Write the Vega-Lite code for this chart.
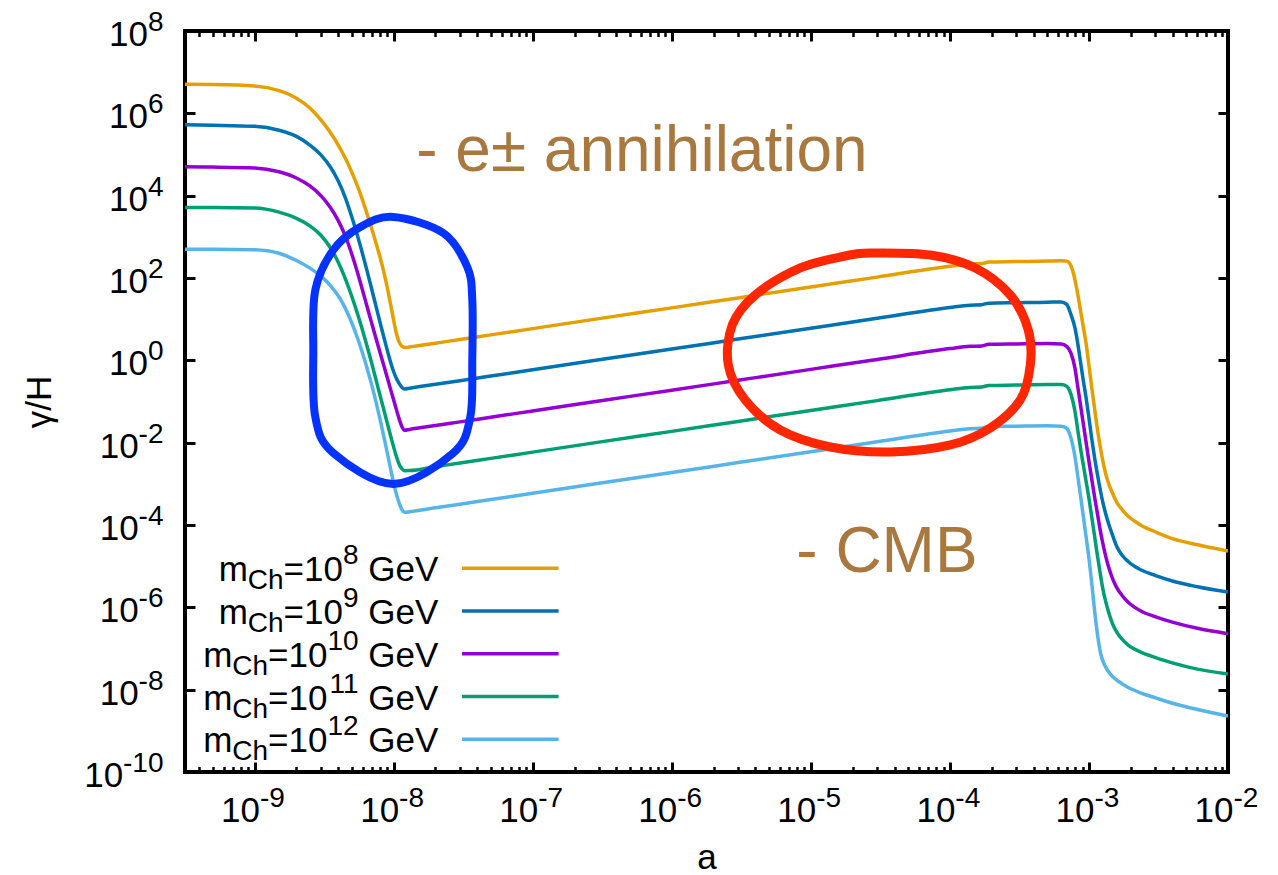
{
"$schema": "https://vega.github.io/schema/vega-lite/v6.json",
"width": 1043, "height": 741,
"autosize": "none",
"padding": {"left": 185, "top": 31, "right": 50, "bottom": 103},
"background": "white",
"config": {"font": "Liberation Sans", "view": {"stroke": "black", "strokeWidth": 4}, "text": {"font": "Liberation Sans", "color": "black"}},
"datasets": {
"curves": [
{"m":"8","a":3.16228e-10,"g":5.08e6},{"m":"8","a":5e-10,"g":5.01e6},{"m":"8","a":1e-9,"g":4.62e6},{"m":"8","a":1.5e-9,"g":3.55e6},{"m":"8","a":2e-9,"g":2.34e6},{"m":"8","a":2.5e-9,"g":1.35e6},{"m":"8","a":3e-9,"g":6.92e5},{"m":"8","a":3.5e-9,"g":3.47e5},{"m":"8","a":4e-9,"g":1.70e5},{"m":"8","a":4.5e-9,"g":8.13e4},{"m":"8","a":5e-9,"g":3.72e4},{"m":"8","a":5.5e-9,"g":1.70e4},{"m":"8","a":6e-9,"g":7.59e3},{"m":"8","a":6.5e-9,"g":3.31e3},{"m":"8","a":7e-9,"g":1.48e3},{"m":"8","a":7.5e-9,"g":676},{"m":"8","a":8e-9,"g":316},{"m":"8","a":8.5e-9,"g":141},{"m":"8","a":9e-9,"g":58.9},{"m":"8","a":9.5e-9,"g":23.4},{"m":"8","a":1e-8,"g":9.55},{"m":"8","a":1.05e-8,"g":4.37},{"m":"8","a":1.1e-8,"g":2.69},{"m":"8","a":1.15e-8,"g":2.19},{"m":"8","a":1.2e-8,"g":2.04},
{"m":"8","a":1.3e-8,"g":2.10},{"m":"8","a":2e-8,"g":2.61},{"m":"8","a":3e-8,"g":3.20},{"m":"8","a":5e-8,"g":4.15},{"m":"8","a":1e-7,"g":5.89},{"m":"8","a":3e-7,"g":10.3},{"m":"8","a":1e-6,"g":18.8},{"m":"8","a":3e-6,"g":32.8},{"m":"8","a":1e-5,"g":60.3},{"m":"8","a":3e-5,"g":105},{"m":"8","a":1e-4,"g":193},{"m":"8","a":1.4e-4,"g":219},{"m":"8","a":1.7e-4,"g":224},{"m":"8","a":1.9e-4,"g":245},{"m":"8","a":3e-4,"g":251},{"m":"8","a":5e-4,"g":257},
{"m":"8","a":6.31e-4,"g":263},{"m":"8","a":6.918e-4,"g":257},{"m":"8","a":7.413e-4,"g":200},{"m":"8","a":7.943e-4,"g":89.1},{"m":"8","a":8.318e-4,"g":39.8},{"m":"8","a":8.71e-4,"g":15.85},{"m":"8","a":9.12e-4,"g":6.31},{"m":"8","a":9.55e-4,"g":2.512},{"m":"8","a":1e-3,"g":0.759},{"m":"8","a":1.047e-3,"g":0.224},{"m":"8","a":1.096e-3,"g":0.0708},{"m":"8","a":1.148e-3,"g":0.0224},{"m":"8","a":1.202e-3,"g":8.51e-3},{"m":"8","a":1.259e-3,"g":3.55e-3},{"m":"8","a":1.318e-3,"g":1.78e-3},{"m":"8","a":1.38e-3,"g":1.047e-3},{"m":"8","a":1.479e-3,"g":5.89e-4},{"m":"8","a":1.585e-3,"g":3.55e-4},{"m":"8","a":1.738e-3,"g":2.34e-4},{"m":"8","a":1.905e-3,"g":1.66e-4},{"m":"8","a":2.138e-3,"g":1.23e-4},{"m":"8","a":2.399e-3,"g":9.55e-5},{"m":"8","a":3.02e-3,"g":6.76e-5},{"m":"8","a":3.981e-3,"g":4.68e-5},{"m":"8","a":6.026e-3,"g":3.31e-5},{"m":"8","a":1e-2,"g":2.34e-5},

{"m":"9","a":3.16228e-10,"g":5.25e5},{"m":"9","a":5e-10,"g":5.13e5},{"m":"9","a":1e-9,"g":4.84e5},{"m":"9","a":1.5e-9,"g":3.89e5},{"m":"9","a":2e-9,"g":2.75e5},{"m":"9","a":2.5e-9,"g":1.69e5},{"m":"9","a":3e-9,"g":9.77e4},{"m":"9","a":3.5e-9,"g":5.04e4},{"m":"9","a":4e-9,"g":2.26e4},{"m":"9","a":4.5e-9,"g":8.83e3},{"m":"9","a":5e-9,"g":3.06e3},{"m":"9","a":5.5e-9,"g":1.06e3},{"m":"9","a":6e-9,"g":372},{"m":"9","a":6.5e-9,"g":133},{"m":"9","a":7e-9,"g":49.8},{"m":"9","a":7.5e-9,"g":19.6},{"m":"9","a":8e-9,"g":8.20},{"m":"9","a":8.5e-9,"g":3.70},{"m":"9","a":9e-9,"g":1.77},{"m":"9","a":9.5e-9,"g":0.912},{"m":"9","a":1e-8,"g":0.536},{"m":"9","a":1.05e-8,"g":0.355},{"m":"9","a":1.1e-8,"g":0.269},{"m":"9","a":1.15e-8,"g":0.219},{"m":"9","a":1.2e-8,"g":0.201},
{"m":"9","a":1.3e-8,"g":0.210},{"m":"9","a":2e-8,"g":0.261},{"m":"9","a":3e-8,"g":0.320},{"m":"9","a":5e-8,"g":0.415},{"m":"9","a":1e-7,"g":0.589},{"m":"9","a":3e-7,"g":1.03},{"m":"9","a":1e-6,"g":1.88},{"m":"9","a":3e-6,"g":3.28},{"m":"9","a":1e-5,"g":6.03},{"m":"9","a":3e-5,"g":10.5},{"m":"9","a":1e-4,"g":19.3},{"m":"9","a":1.4e-4,"g":21.9},{"m":"9","a":1.7e-4,"g":22.4},{"m":"9","a":1.9e-4,"g":24.5},{"m":"9","a":3e-4,"g":25.1},{"m":"9","a":5e-4,"g":25.7},
{"m":"9","a":6.31e-4,"g":26.3},{"m":"9","a":6.918e-4,"g":22.9},{"m":"9","a":7.413e-4,"g":13.2},{"m":"9","a":7.943e-4,"g":6.03},{"m":"9","a":8.318e-4,"g":2.512},{"m":"9","a":8.71e-4,"g":0.891},{"m":"9","a":9.12e-4,"g":0.316},{"m":"9","a":9.55e-4,"g":0.120},{"m":"9","a":1e-3,"g":0.0398},{"m":"9","a":1.047e-3,"g":0.0126},{"m":"9","a":1.096e-3,"g":4.47e-3},{"m":"9","a":1.148e-3,"g":1.78e-3},{"m":"9","a":1.202e-3,"g":7.59e-4},{"m":"9","a":1.259e-3,"g":3.55e-4},{"m":"9","a":1.318e-3,"g":1.91e-4},{"m":"9","a":1.38e-3,"g":1.12e-4},{"m":"9","a":1.479e-3,"g":5.62e-5},{"m":"9","a":1.585e-3,"g":3.02e-5},{"m":"9","a":1.738e-3,"g":1.82e-5},{"m":"9","a":1.905e-3,"g":1.32e-5},{"m":"9","a":2.138e-3,"g":9.77e-6},{"m":"9","a":2.399e-3,"g":7.94e-6},{"m":"9","a":3.02e-3,"g":5.89e-6},{"m":"9","a":3.981e-3,"g":4.37e-6},{"m":"9","a":6.026e-3,"g":3.16e-6},{"m":"9","a":1e-2,"g":2.34e-6},

{"m":"10","a":3.16228e-10,"g":5.01e4},{"m":"10","a":5e-10,"g":4.95e4},{"m":"10","a":1e-9,"g":4.73e4},{"m":"10","a":1.5e-9,"g":3.80e4},{"m":"10","a":2e-9,"g":2.69e4},{"m":"10","a":2.5e-9,"g":1.72e4},{"m":"10","a":3e-9,"g":1.0e4},{"m":"10","a":3.5e-9,"g":5.22e3},{"m":"10","a":4e-9,"g":2.47e3},{"m":"10","a":4.5e-9,"g":1.04e3},{"m":"10","a":5e-9,"g":384},{"m":"10","a":5.5e-9,"g":136},{"m":"10","a":6e-9,"g":48.4},{"m":"10","a":6.5e-9,"g":18.2},{"m":"10","a":7e-9,"g":7.43},{"m":"10","a":7.5e-9,"g":3.24},{"m":"10","a":8e-9,"g":1.52},{"m":"10","a":8.5e-9,"g":0.753},{"m":"10","a":9e-9,"g":0.385},{"m":"10","a":9.5e-9,"g":0.200},{"m":"10","a":1e-8,"g":0.111},{"m":"10","a":1.05e-8,"g":0.0617},{"m":"10","a":1.1e-8,"g":0.0363},{"m":"10","a":1.15e-8,"g":0.0240},{"m":"10","a":1.2e-8,"g":0.0200},
{"m":"10","a":1.3e-8,"g":0.0210},{"m":"10","a":2e-8,"g":0.0261},{"m":"10","a":3e-8,"g":0.0320},{"m":"10","a":5e-8,"g":0.0415},{"m":"10","a":1e-7,"g":0.0589},{"m":"10","a":3e-7,"g":0.103},{"m":"10","a":1e-6,"g":0.188},{"m":"10","a":3e-6,"g":0.328},{"m":"10","a":1e-5,"g":0.603},{"m":"10","a":3e-5,"g":1.05},{"m":"10","a":1e-4,"g":1.93},{"m":"10","a":1.4e-4,"g":2.19},{"m":"10","a":1.7e-4,"g":2.24},{"m":"10","a":1.9e-4,"g":2.45},{"m":"10","a":3e-4,"g":2.51},{"m":"10","a":5e-4,"g":2.57},
{"m":"10","a":6.31e-4,"g":2.51},{"m":"10","a":6.918e-4,"g":2.19},{"m":"10","a":7.413e-4,"g":1.51},{"m":"10","a":7.943e-4,"g":0.631},{"m":"10","a":8.318e-4,"g":0.224},{"m":"10","a":8.71e-4,"g":0.0794},{"m":"10","a":9.12e-4,"g":0.0282},{"m":"10","a":9.55e-4,"g":0.0100},{"m":"10","a":1e-3,"g":3.55e-3},{"m":"10","a":1.047e-3,"g":1.32e-3},{"m":"10","a":1.096e-3,"g":5.01e-4},{"m":"10","a":1.148e-3,"g":2.0e-4},{"m":"10","a":1.202e-3,"g":7.94e-5},{"m":"10","a":1.259e-3,"g":3.55e-5},{"m":"10","a":1.318e-3,"g":1.78e-5},{"m":"10","a":1.38e-3,"g":1.0e-5},{"m":"10","a":1.479e-3,"g":5.01e-6},{"m":"10","a":1.585e-3,"g":3.02e-6},{"m":"10","a":1.738e-3,"g":1.91e-6},{"m":"10","a":1.905e-3,"g":1.35e-6},{"m":"10","a":2.138e-3,"g":1.0e-6},{"m":"10","a":2.399e-3,"g":7.94e-7},{"m":"10","a":3.02e-3,"g":5.89e-7},{"m":"10","a":3.981e-3,"g":4.37e-7},{"m":"10","a":6.026e-3,"g":3.09e-7},{"m":"10","a":1e-2,"g":2.29e-7},

{"m":"11","a":3.16228e-10,"g":5.13e3},{"m":"11","a":5e-10,"g":5.13e3},{"m":"11","a":1e-9,"g":5.01e3},{"m":"11","a":1.5e-9,"g":3.98e3},{"m":"11","a":2e-9,"g":2.82e3},{"m":"11","a":2.5e-9,"g":1.85e3},{"m":"11","a":3e-9,"g":1.09e3},{"m":"11","a":3.5e-9,"g":552},{"m":"11","a":4e-9,"g":241},{"m":"11","a":4.5e-9,"g":95.3},{"m":"11","a":5e-9,"g":36.0},{"m":"11","a":5.5e-9,"g":13.6},{"m":"11","a":6e-9,"g":5.19},{"m":"11","a":6.5e-9,"g":2.0},{"m":"11","a":7e-9,"g":0.789},{"m":"11","a":7.5e-9,"g":0.321},{"m":"11","a":8e-9,"g":0.138},{"m":"11","a":8.5e-9,"g":0.0635},{"m":"11","a":9e-9,"g":0.0302},{"m":"11","a":9.5e-9,"g":0.0149},{"m":"11","a":1e-8,"g":7.91e-3},{"m":"11","a":1.05e-8,"g":4.49e-3},{"m":"11","a":1.1e-8,"g":2.92e-3},{"m":"11","a":1.15e-8,"g":2.30e-3},{"m":"11","a":1.2e-8,"g":2.09e-3},
{"m":"11","a":1.3e-8,"g":2.10e-3},{"m":"11","a":2e-8,"g":2.61e-3},{"m":"11","a":3e-8,"g":3.20e-3},{"m":"11","a":5e-8,"g":4.15e-3},{"m":"11","a":1e-7,"g":5.89e-3},{"m":"11","a":3e-7,"g":0.0103},{"m":"11","a":1e-6,"g":0.0188},{"m":"11","a":3e-6,"g":0.0328},{"m":"11","a":1e-5,"g":0.0603},{"m":"11","a":3e-5,"g":0.105},{"m":"11","a":1e-4,"g":0.193},{"m":"11","a":1.4e-4,"g":0.219},{"m":"11","a":1.7e-4,"g":0.224},{"m":"11","a":1.9e-4,"g":0.245},{"m":"11","a":3e-4,"g":0.251},{"m":"11","a":5e-4,"g":0.257},
{"m":"11","a":6.31e-4,"g":0.257},{"m":"11","a":6.918e-4,"g":0.234},{"m":"11","a":7.413e-4,"g":0.151},{"m":"11","a":7.943e-4,"g":0.0562},{"m":"11","a":8.318e-4,"g":0.0200},{"m":"11","a":8.71e-4,"g":7.08e-3},{"m":"11","a":9.12e-4,"g":2.82e-3},{"m":"11","a":9.55e-4,"g":1.12e-3},{"m":"11","a":1e-3,"g":4.47e-4},{"m":"11","a":1.047e-3,"g":1.58e-4},{"m":"11","a":1.096e-3,"g":5.62e-5},{"m":"11","a":1.148e-3,"g":1.91e-5},{"m":"11","a":1.202e-3,"g":7.08e-6},{"m":"11","a":1.259e-3,"g":2.82e-6},{"m":"11","a":1.318e-3,"g":1.41e-6},{"m":"11","a":1.38e-3,"g":7.94e-7},{"m":"11","a":1.479e-3,"g":3.98e-7},{"m":"11","a":1.585e-3,"g":2.51e-7},{"m":"11","a":1.738e-3,"g":1.66e-7},{"m":"11","a":1.905e-3,"g":1.23e-7},{"m":"11","a":2.138e-3,"g":9.55e-8},{"m":"11","a":2.399e-3,"g":7.94e-8},{"m":"11","a":3.02e-3,"g":6.03e-8},{"m":"11","a":3.981e-3,"g":4.47e-8},{"m":"11","a":6.026e-3,"g":3.16e-8},{"m":"11","a":1e-2,"g":2.40e-8},

{"m":"12","a":3.16228e-10,"g":501},{"m":"12","a":5e-10,"g":501},{"m":"12","a":1e-9,"g":484},{"m":"12","a":1.5e-9,"g":398},{"m":"12","a":2e-9,"g":266},{"m":"12","a":2.5e-9,"g":174},{"m":"12","a":3e-9,"g":111},{"m":"12","a":3.5e-9,"g":66.5},{"m":"12","a":4e-9,"g":37.0},{"m":"12","a":4.5e-9,"g":18.3},{"m":"12","a":5e-9,"g":8.17},{"m":"12","a":5.5e-9,"g":3.49},{"m":"12","a":6e-9,"g":1.44},{"m":"12","a":6.5e-9,"g":0.585},{"m":"12","a":7e-9,"g":0.236},{"m":"12","a":7.5e-9,"g":0.0929},{"m":"12","a":8e-9,"g":0.0362},{"m":"12","a":8.5e-9,"g":0.0143},{"m":"12","a":9e-9,"g":5.70e-3},{"m":"12","a":9.5e-9,"g":2.36e-3},{"m":"12","a":1e-8,"g":1.07e-3},{"m":"12","a":1.05e-8,"g":5.46e-4},{"m":"12","a":1.1e-8,"g":3.29e-4},{"m":"12","a":1.15e-8,"g":2.34e-4},{"m":"12","a":1.2e-8,"g":2.04e-4},
{"m":"12","a":1.3e-8,"g":2.10e-4},{"m":"12","a":2e-8,"g":2.61e-4},{"m":"12","a":3e-8,"g":3.20e-4},{"m":"12","a":5e-8,"g":4.15e-4},{"m":"12","a":1e-7,"g":5.89e-4},{"m":"12","a":3e-7,"g":1.03e-3},{"m":"12","a":1e-6,"g":1.88e-3},{"m":"12","a":3e-6,"g":3.28e-3},{"m":"12","a":1e-5,"g":6.03e-3},{"m":"12","a":3e-5,"g":0.0105},{"m":"12","a":1e-4,"g":0.0193},{"m":"12","a":1.4e-4,"g":0.0219},{"m":"12","a":1.7e-4,"g":0.0224},{"m":"12","a":1.9e-4,"g":0.0245},{"m":"12","a":3e-4,"g":0.0251},{"m":"12","a":5e-4,"g":0.0257},
{"m":"12","a":6.31e-4,"g":0.0251},{"m":"12","a":6.918e-4,"g":0.0224},{"m":"12","a":7.413e-4,"g":0.0132},{"m":"12","a":7.943e-4,"g":4.47e-3},{"m":"12","a":8.318e-4,"g":1.51e-3},{"m":"12","a":8.71e-4,"g":5.01e-4},{"m":"12","a":9.12e-4,"g":1.58e-4},{"m":"12","a":9.55e-4,"g":5.01e-5},{"m":"12","a":1e-3,"g":1.58e-5},{"m":"12","a":1.047e-3,"g":3.98e-6},{"m":"12","a":1.096e-3,"g":8.91e-7},{"m":"12","a":1.148e-3,"g":2.40e-7},{"m":"12","a":1.202e-3,"g":8.91e-8},{"m":"12","a":1.259e-3,"g":5.01e-8},{"m":"12","a":1.318e-3,"g":3.55e-8},{"m":"12","a":1.38e-3,"g":2.75e-8},{"m":"12","a":1.479e-3,"g":2.09e-8},{"m":"12","a":1.585e-3,"g":1.70e-8},{"m":"12","a":1.738e-3,"g":1.38e-8},{"m":"12","a":1.905e-3,"g":1.15e-8},{"m":"12","a":2.138e-3,"g":9.55e-9},{"m":"12","a":2.399e-3,"g":8.13e-9},{"m":"12","a":3.02e-3,"g":6.31e-9},{"m":"12","a":3.981e-3,"g":4.68e-9},{"m":"12","a":6.026e-3,"g":3.31e-9},{"m":"12","a":1e-2,"g":2.29e-9}
],
"blueloop": [
{"i":1,"a":9.95e-9,"g":3035},{"i":2,"a":2.276e-8,"g":1240},{"i":3,"a":3.388e-8,"g":185.2},{"i":4,"a":3.68e-8,"g":29.25},{"i":5,"a":3.68e-8,"g":1.02},{"i":6,"a":3.56e-8,"g":0.0421},{"i":7,"a":2.687e-8,"g":5.62e-3},{"i":8,"a":9.95e-9,"g":9.93e-4},{"i":9,"a":3.683e-9,"g":5.62e-3},{"i":10,"a":2.735e-9,"g":0.0421},{"i":11,"a":2.646e-9,"g":1.785},{"i":12,"a":2.735e-9,"g":51.2},{"i":13,"a":3.683e-9,"g":479},{"i":14,"a":5.76e-9,"g":1735}
],
"redloop": [
{"i":1,"a":2.677e-5,"g":405.3},{"i":2,"a":7.23e-5,"g":362.3},{"i":3,"a":1.523e-4,"g":175.2},{"i":4,"a":2.719e-4,"g":38.7},{"i":5,"a":3.663e-4,"g":5.464},{"i":6,"a":3.786e-4,"g":0.7716},{"i":7,"a":3.208e-4,"g":0.109},{"i":8,"a":1.952e-4,"g":0.02275},{"i":9,"a":1.007e-4,"g":8.79e-3},{"i":10,"a":3.728e-5,"g":5.94e-3},{"i":11,"a":1.38e-5,"g":7.86e-3},{"i":12,"a":6.03e-6,"g":0.02035},{"i":13,"a":3.38e-6,"g":0.109},{"i":14,"a":2.551e-6,"g":0.7716},{"i":15,"a":2.725e-6,"g":7.225},{"i":16,"a":3.99e-6,"g":38.7},{"i":17,"a":8.4e-6,"g":175.2},{"i":18,"a":1.77e-5,"g":342.7}
],
"notes": [{"t":"- e± annihilation","a":1.455e-8,"g":3.98e4},{"t":"- CMB","a":7.865e-6,"g":7.36e-6}],
"xlab": [{"v":1e-9,"e":"-9"},{"v":1e-8,"e":"-8"},{"v":1e-7,"e":"-7"},{"v":1e-6,"e":"-6"},{"v":1e-5,"e":"-5"},{"v":1e-4,"e":"-4"},{"v":1e-3,"e":"-3"},{"v":1e-2,"e":"-2"}],
"ylab": [{"v":1e8,"e":"8","g":1},{"v":1e6,"e":"6","g":1},{"v":1e4,"e":"4","g":1},{"v":100,"e":"2","g":1},{"v":1,"e":"0","g":1},{"v":0.01,"e":"-2","g":2},{"v":1e-4,"e":"-4","g":2},{"v":1e-6,"e":"-6","g":2},{"v":1e-8,"e":"-8","g":2},{"v":1e-10,"e":"-10","g":3}],
"legend": [{"m":"8","e":"8","r":1,"d":1},{"m":"9","e":"9","r":2,"d":1},{"m":"10","e":"10","r":3,"d":2},{"m":"11","e":"11","r":4,"d":2},{"m":"12","e":"12","r":5,"d":2}]
},
"layer": [
{
"layer": [
{"data": {"name": "curves"}, "mark": {"type": "line", "strokeWidth": 3.5, "clip": true, "interpolate": "monotone"},
 "encoding": {
  "x": {"field": "a", "type": "quantitative", "scale": {"type": "log", "domain": [3.16228e-10, 0.01], "nice": false},
   "axis": {"orient": "bottom", "labels": false, "domain": false, "grid": false, "ticks": true, "tickColor": "black",
    "values": [4e-10,5e-10,6e-10,7e-10,8e-10,9e-10,1e-9,2e-9,3e-9,4e-9,5e-9,6e-9,7e-9,8e-9,9e-9,1e-8,2e-8,3e-8,4e-8,5e-8,6e-8,7e-8,8e-8,9e-8,1e-7,2e-7,3e-7,4e-7,5e-7,6e-7,7e-7,8e-7,9e-7,1e-6,2e-6,3e-6,4e-6,5e-6,6e-6,7e-6,8e-6,9e-6,1e-5,2e-5,3e-5,4e-5,5e-5,6e-5,7e-5,8e-5,9e-5,1e-4,2e-4,3e-4,4e-4,5e-4,6e-4,7e-4,8e-4,9e-4,1e-3,2e-3,3e-3,4e-3,5e-3,6e-3,7e-3,8e-3,9e-3,1e-2],
    "tickSize": {"condition": {"test": "abs(log(datum.value)/LN10 - round(log(datum.value)/LN10)) < 0.01", "value": -10}, "value": -5.5},
    "tickWidth": {"condition": {"test": "abs(log(datum.value)/LN10 - round(log(datum.value)/LN10)) < 0.01", "value": 3}, "value": 2.5},
    "title": "a", "titleFont": "Liberation Sans", "titleFontSize": 35, "titleFontWeight": "normal", "titleColor": "black",
    "titleX": 521.5, "titleY": 96, "titleBaseline": "alphabetic", "titleAlign": "center"}},
  "y": {"field": "g", "type": "quantitative", "scale": {"type": "log", "domain": [1e-10, 1e8], "nice": false},
   "axis": {"orient": "left", "labels": false, "domain": false, "grid": false, "ticks": true, "tickColor": "black",
    "values": [1e-10,1e-8,1e-6,1e-4,0.01,1,100,1e4,1e6,1e8], "tickSize": -10, "tickWidth": 3,
    "title": "γ/H", "titleFont": "Liberation Sans", "titleFontSize": 35, "titleFontWeight": "normal", "titleColor": "black",
    "titleAngle": 270, "titleX": -135, "titleY": 370.5, "titleBaseline": "alphabetic", "titleAlign": "center"}},
  "color": {"field": "m", "type": "nominal", "scale": {"domain": ["8","9","10","11","12"], "range": ["#e69f00","#0072b2","#9400d3","#009e73","#56b4e9"]}, "legend": null}
 }},
{"data": {"name": "curves"}, "mark": {"type": "point", "opacity": 0},
 "encoding": {
  "x": {"field": "a", "type": "quantitative",
   "axis": {"orient": "top", "labels": false, "domain": false, "grid": false, "ticks": true, "tickColor": "black", "title": null,
    "values": [4e-10,5e-10,6e-10,7e-10,8e-10,9e-10,1e-9,2e-9,3e-9,4e-9,5e-9,6e-9,7e-9,8e-9,9e-9,1e-8,2e-8,3e-8,4e-8,5e-8,6e-8,7e-8,8e-8,9e-8,1e-7,2e-7,3e-7,4e-7,5e-7,6e-7,7e-7,8e-7,9e-7,1e-6,2e-6,3e-6,4e-6,5e-6,6e-6,7e-6,8e-6,9e-6,1e-5,2e-5,3e-5,4e-5,5e-5,6e-5,7e-5,8e-5,9e-5,1e-4,2e-4,3e-4,4e-4,5e-4,6e-4,7e-4,8e-4,9e-4,1e-3,2e-3,3e-3,4e-3,5e-3,6e-3,7e-3,8e-3,9e-3,1e-2],
    "tickSize": {"condition": {"test": "abs(log(datum.value)/LN10 - round(log(datum.value)/LN10)) < 0.01", "value": -10}, "value": -5.5},
    "tickWidth": {"condition": {"test": "abs(log(datum.value)/LN10 - round(log(datum.value)/LN10)) < 0.01", "value": 3}, "value": 2.5}}},
  "y": {"field": "g", "type": "quantitative",
   "axis": {"orient": "right", "labels": false, "domain": false, "grid": false, "ticks": true, "tickColor": "black", "title": null,
    "values": [1e-10,1e-8,1e-6,1e-4,0.01,1,100,1e4,1e6,1e8], "tickSize": -10, "tickWidth": 3}}
 }},
{"mark": {"type": "rule", "color": "#e51e10", "strokeWidth": 3},
 "encoding": {"y": {"datum": 1, "type": "quantitative", "axis": null}}},
{"data": {"name": "blueloop"}, "mark": {"type": "line", "color": "#0433ff", "strokeWidth": 8, "interpolate": "cardinal-closed", "clip": true},
 "encoding": {"x": {"field": "a", "type": "quantitative", "axis": null}, "y": {"field": "g", "type": "quantitative", "axis": null}, "order": {"field": "i", "type": "quantitative"}}},
{"data": {"name": "redloop"}, "mark": {"type": "line", "color": "#ff2600", "strokeWidth": 9, "interpolate": "cardinal-closed", "clip": true},
 "encoding": {"x": {"field": "a", "type": "quantitative", "axis": null}, "y": {"field": "g", "type": "quantitative", "axis": null}, "order": {"field": "i", "type": "quantitative"}}},
{"data": {"name": "notes"}, "mark": {"type": "text", "fontSize": 64, "color": "#a8783f", "align": "left", "baseline": "alphabetic"},
 "encoding": {"x": {"field": "a", "type": "quantitative", "axis": null}, "y": {"field": "g", "type": "quantitative", "axis": null}, "text": {"field": "t"}}},
{"data": {"name": "xlab"}, "mark": {"type": "text", "text": "10", "fontSize": 35, "align": "right", "baseline": "alphabetic", "dx": 5.5, "dy": 50},
 "encoding": {"x": {"field": "v", "type": "quantitative", "axis": null}, "y": {"datum": 1e-10, "type": "quantitative", "axis": null}}},
{"data": {"name": "xlab"}, "mark": {"type": "text", "fontSize": 28, "align": "left", "baseline": "alphabetic", "dx": 5.5, "dy": 35},
 "encoding": {"x": {"field": "v", "type": "quantitative", "axis": null}, "y": {"datum": 1e-10, "type": "quantitative", "axis": null}, "text": {"field": "e"}}},
{"data": {"name": "ylab"}, "mark": {"type": "text", "fontSize": 28, "align": "right", "baseline": "alphabetic", "dx": -21.5, "dy": 0},
 "encoding": {"x": {"datum": 3.16228e-10, "type": "quantitative", "axis": null}, "y": {"field": "v", "type": "quantitative", "axis": null}, "text": {"field": "e"}}},
{"data": {"name": "ylab"}, "transform": [{"filter": "datum.g == 1"}], "mark": {"type": "text", "text": "10", "fontSize": 35, "align": "right", "baseline": "alphabetic", "dx": -37.1, "dy": 15},
 "encoding": {"x": {"datum": 3.16228e-10, "type": "quantitative", "axis": null}, "y": {"field": "v", "type": "quantitative", "axis": null}}},
{"data": {"name": "ylab"}, "transform": [{"filter": "datum.g == 2"}], "mark": {"type": "text", "text": "10", "fontSize": 35, "align": "right", "baseline": "alphabetic", "dx": -46.4, "dy": 15},
 "encoding": {"x": {"datum": 3.16228e-10, "type": "quantitative", "axis": null}, "y": {"field": "v", "type": "quantitative", "axis": null}}},
{"data": {"name": "ylab"}, "transform": [{"filter": "datum.g == 3"}], "mark": {"type": "text", "text": "10", "fontSize": 35, "align": "right", "baseline": "alphabetic", "dx": -61.9, "dy": 15},
 "encoding": {"x": {"datum": 3.16228e-10, "type": "quantitative", "axis": null}, "y": {"field": "v", "type": "quantitative", "axis": null}}}
],
"resolve": {"axis": {"x": "independent", "y": "independent"}}
},
{
"data": {"name": "legend"},
"layer": [
{"mark": {"type": "rule", "strokeWidth": 3.5},
 "encoding": {"x": {"datum": 3.105e-8, "type": "quantitative", "scale": {"type": "log"}, "axis": null}, "x2": {"datum": 1.536e-7},
  "y": {"field": "r", "type": "ordinal", "scale": {"type": "point", "domain": [1,2,3,4,5], "range": [537.3, 708.3], "padding": 0}, "axis": null},
  "color": {"field": "m", "type": "nominal", "legend": null}}},
{"mark": {"type": "text", "text": "GeV", "fontSize": 35, "align": "right", "baseline": "alphabetic", "dy": 13},
 "encoding": {"x": {"datum": 2.096e-8, "type": "quantitative", "scale": {"type": "log"}, "axis": null}, "y": {"field": "r", "type": "ordinal", "axis": null}}},
{"mark": {"type": "text", "fontSize": 28, "align": "right", "baseline": "alphabetic", "dx": -79.7, "dy": -4},
 "encoding": {"x": {"datum": 2.096e-8, "type": "quantitative", "scale": {"type": "log"}, "axis": null}, "y": {"field": "r", "type": "ordinal", "axis": null}, "text": {"field": "e"}}},
{"transform": [{"filter": "datum.d == 1"}], "mark": {"type": "text", "text": "=10", "fontSize": 35, "align": "right", "baseline": "alphabetic", "dx": -95.3, "dy": 13},
 "encoding": {"x": {"datum": 2.096e-8, "type": "quantitative", "scale": {"type": "log"}, "axis": null}, "y": {"field": "r", "type": "ordinal", "axis": null}}},
{"transform": [{"filter": "datum.d == 2"}], "mark": {"type": "text", "text": "=10", "fontSize": 35, "align": "right", "baseline": "alphabetic", "dx": -110.8, "dy": 13},
 "encoding": {"x": {"datum": 2.096e-8, "type": "quantitative", "scale": {"type": "log"}, "axis": null}, "y": {"field": "r", "type": "ordinal", "axis": null}}},
{"transform": [{"filter": "datum.d == 1"}], "mark": {"type": "text", "text": "Ch", "fontSize": 28, "align": "right", "baseline": "alphabetic", "dx": -154.7, "dy": 21},
 "encoding": {"x": {"datum": 2.096e-8, "type": "quantitative", "scale": {"type": "log"}, "axis": null}, "y": {"field": "r", "type": "ordinal", "axis": null}}},
{"transform": [{"filter": "datum.d == 2"}], "mark": {"type": "text", "text": "Ch", "fontSize": 28, "align": "right", "baseline": "alphabetic", "dx": -170.2, "dy": 21},
 "encoding": {"x": {"datum": 2.096e-8, "type": "quantitative", "scale": {"type": "log"}, "axis": null}, "y": {"field": "r", "type": "ordinal", "axis": null}}},
{"transform": [{"filter": "datum.d == 1"}], "mark": {"type": "text", "text": "m", "fontSize": 35, "align": "right", "baseline": "alphabetic", "dx": -190.5, "dy": 13},
 "encoding": {"x": {"datum": 2.096e-8, "type": "quantitative", "scale": {"type": "log"}, "axis": null}, "y": {"field": "r", "type": "ordinal", "axis": null}}},
{"transform": [{"filter": "datum.d == 2"}], "mark": {"type": "text", "text": "m", "fontSize": 35, "align": "right", "baseline": "alphabetic", "dx": -206, "dy": 13},
 "encoding": {"x": {"datum": 2.096e-8, "type": "quantitative", "scale": {"type": "log"}, "axis": null}, "y": {"field": "r", "type": "ordinal", "axis": null}}}
]
}
],
"resolve": {"scale": {"y": "independent"}, "axis": {"x": "independent", "y": "independent"}}
}
